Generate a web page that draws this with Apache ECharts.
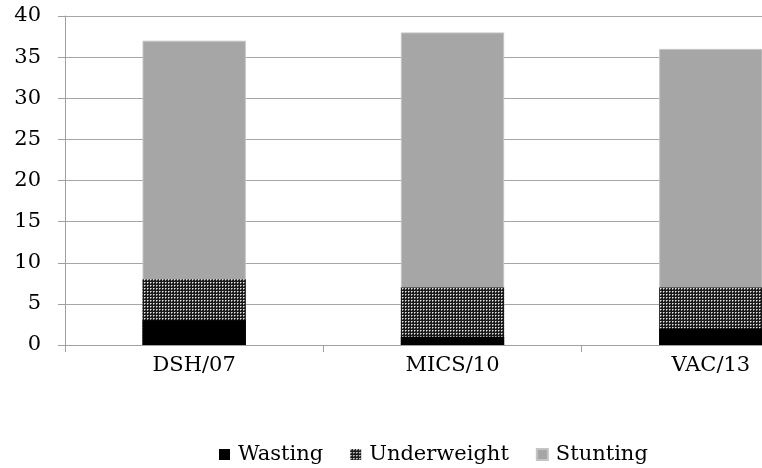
<!DOCTYPE html>
<html>
<head>
<meta charset="utf-8">
<script src="https://cdn.jsdelivr.net/npm/echarts@6/dist/echarts.min.js"></script>
<style>html,body{margin:0;padding:0;background:#fff}#c{width:762px;height:468px}</style>
</head>
<body>
<div id="c"></div>
<script>
const categories = ['DSH/07', 'MICS/10', 'VAC/13'];
const wasting = [3, 1, 2];
const underweight = [8, 7, 7];
const stunting = [37, 38, 36];
const yTicks = [0, 5, 10, 15, 20, 25, 30, 35, 40];

function makePattern() {
  const c = document.createElement('canvas');
  c.width = 3; c.height = 3;
  const g = c.getContext('2d');
  g.fillStyle = '#1a1a1a'; g.fillRect(0, 0, 3, 3);
  g.fillStyle = '#8a8a8a'; g.fillRect(1, 0, 1, 1); g.fillRect(0, 1, 1, 1);
  g.fillStyle = '#e8e8e8'; g.fillRect(0, 0, 1, 1);
  return c;
}
const pat = { image: makePattern(), repeat: 'repeat' };
const font = 'DejaVu Serif';

const chart = echarts.init(document.getElementById('c'), null, { renderer: 'canvas' });
chart.setOption({
  animation: false,
  backgroundColor: '#fff',
  grid: { left: 65, top: 16, height: 329, width: 775, containLabel: false, outerBoundsMode: 'none' },
  legend: {
    data: ['Wasting', 'Underweight', 'Stunting'],
    left: 214, top: 439,
    itemWidth: 11, itemHeight: 11, itemGap: 27,
    icon: 'rect',
    textStyle: { fontFamily: font, fontSize: 21, color: '#000', padding: [0, 0, 0, 3] }
  },
  xAxis: {
    type: 'category',
    data: categories,
    axisLine: { lineStyle: { color: '#a0a0a0', width: 1 } },
    axisTick: { show: true, length: 7, inside: false, lineStyle: { color: '#a0a0a0' } },
    axisLabel: { fontFamily: font, fontSize: 21, color: '#000', margin: 10 }
  },
  yAxis: {
    type: 'value',
    min: 0, max: 40, interval: 5,
    axisLine: { show: true, lineStyle: { color: '#a0a0a0' } },
    axisTick: { show: true, length: 7, lineStyle: { color: '#a0a0a0' } },
    splitLine: { lineStyle: { color: '#a6a6a6', width: 1 } },
    axisLabel: {
      fontFamily: font, fontSize: 21, color: '#000', margin: 24,
      formatter: v => yTicks.includes(v) ? String(v) : ''
    }
  },
  series: [
    { name: 'Stunting', type: 'bar', data: stunting, barWidth: '40%', barGap: '-100%',
      itemStyle: { color: '#a6a6a6', borderColor: '#c4c4c4', borderWidth: 1 } },
    { name: 'Underweight', type: 'bar', data: underweight, barWidth: '40%', barGap: '-100%',
      itemStyle: { color: pat } },
    { name: 'Wasting', type: 'bar', data: wasting, barWidth: '40%', barGap: '-100%',
      itemStyle: { color: '#000' } }
  ]
});
</script>
</body>
</html>
